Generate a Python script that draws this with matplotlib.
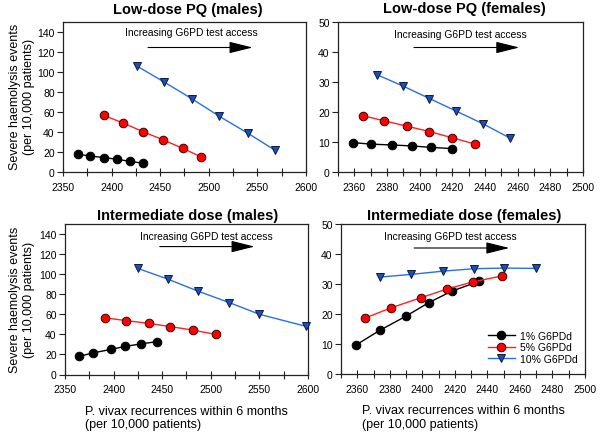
import matplotlib
matplotlib.use("Agg")
import matplotlib.pyplot as plt
from matplotlib.ticker import MultipleLocator

plt.rcParams['font.family'] = ['Liberation Sans', 'DejaVu Sans']

# ---------------- data ----------------
series_labels = ["1% G6PDd", "5% G6PDd", "10% G6PDd"]

# Low-dose PQ (males)
ld_m_x1 = [2365, 2378, 2392, 2406, 2419, 2432]
ld_m_y1 = [17.7, 16.0, 14.4, 12.7, 10.6, 8.8]
ld_m_x5 = [2392, 2412, 2432, 2453, 2473, 2492]
ld_m_y5 = [56.6, 48.9, 40.5, 32.1, 23.8, 15.1]
ld_m_x10 = [2426, 2454, 2483, 2511, 2540, 2568]
ld_m_y10 = [106.0, 90.0, 73.0, 55.6, 38.9, 21.8]

# Low-dose PQ (females)
ld_f_x1 = [2359, 2370, 2383, 2395, 2407, 2420]
ld_f_y1 = [9.8, 9.3, 9.0, 8.7, 8.2, 7.8]
ld_f_x5 = [2365, 2378, 2392, 2406, 2420, 2434]
ld_f_y5 = [18.8, 17.1, 15.3, 13.5, 11.4, 9.3]
ld_f_x10 = [2374, 2390, 2406, 2422, 2439, 2455]
ld_f_y10 = [32.4, 28.6, 24.5, 20.4, 16.0, 11.4]

# Intermediate dose (males)
im_m_x1 = [2364, 2379, 2397, 2412, 2428, 2445]
im_m_y1 = [18.0, 21.5, 25.0, 28.0, 30.5, 32.8]
im_m_x5 = [2391, 2413, 2436, 2458, 2482, 2505]
im_m_y5 = [56.5, 53.7, 51.0, 47.8, 44.2, 40.0]
im_m_x10 = [2425, 2456, 2487, 2519, 2550, 2598]
im_m_y10 = [105.7, 95.0, 83.0, 71.7, 60.0, 48.0]

# Intermediate dose (females)
im_f_x1 = [2359, 2374, 2390, 2404, 2418, 2435]
im_f_y1 = [9.6, 14.6, 19.3, 23.8, 27.6, 30.9]
im_f_x5 = [2365, 2381, 2399, 2415, 2431, 2449]
im_f_y5 = [18.7, 22.1, 25.4, 28.3, 30.7, 32.7]
im_f_x10 = [2374, 2393, 2413, 2432, 2450, 2470]
im_f_y10 = [32.3, 33.2, 34.3, 35.1, 35.3, 35.2]

panel_titles = ["Low-dose PQ (males)", "Low-dose PQ (females)",
                "Intermediate dose (males)", "Intermediate dose (females)"]
ylabel_text = "Severe haemolysis events\n(per 10,000 patients)"
xlabel_text = "P. vivax recurrences within 6 months\n(per 10,000 patients)"
annot_text = "Increasing G6PD test access"

# ---------------- styling ----------------
W, H = 602, 435
fig = plt.figure(figsize=(W / 100, H / 100), dpi=100)


def rect(l, t, r, b):
    return [l / W, 1 - b / H, (r - l) / W, (b - t) / H]


styles = [
    dict(color='black', marker='o', mfc='black', mec='black', ms=6.2),
    dict(color='#ff2020', marker='o', mfc='#ff0000', mec='#3a0000', ms=6.2),
    dict(color='#2a6fe0', marker='v', mfc='#1c4fb8', mec='#0a1a40', ms=6.0),
]

panels = [
    (rect(63, 23, 306, 173), (ld_m_x1, ld_m_y1, ld_m_x5, ld_m_y5, ld_m_x10, ld_m_y10), 'm',
     (0.53, 0.93), (0.35, 0.78, 0.83)),
    (rect(338, 23, 583, 173), (ld_f_x1, ld_f_y1, ld_f_x5, ld_f_y5, ld_f_x10, ld_f_y10), 'f',
     (0.50, 0.92), (0.31, 0.74, 0.83)),
    (rect(65, 225, 308, 375.5), (im_m_x1, im_m_y1, im_m_x5, im_m_y5, im_m_x10, im_m_y10), 'm',
     (0.58, 0.92), (0.39, 0.78, 0.85)),
    (rect(341, 225, 585, 375), (im_f_x1, im_f_y1, im_f_x5, im_f_y5, im_f_x10, im_f_y10), 'f',
     (0.45, 0.92), (0.30, 0.69, 0.84)),
]

axes = []
for i, (r, d, sex, tpos, apos) in enumerate(panels):
    ax = fig.add_axes(r)
    axes.append(ax)
    for k in range(3):
        st = styles[k]
        ax.plot(d[2 * k], d[2 * k + 1], color=st['color'], lw=1.0,
                marker=st['marker'], ms=st['ms'],
                mfc=st['mfc'], mec=st['mec'], mew=0.7, label=series_labels[k],
                clip_on=False, zorder=3)
    if sex == 'm':
        ax.set_xlim(2350, 2600)
        ax.set_ylim(0, 150)
        ax.xaxis.set_major_locator(MultipleLocator(50))
        ax.xaxis.set_minor_locator(MultipleLocator(25))
        ax.set_yticks(range(0, 141, 20))
    else:
        ax.set_xlim(2350, 2500)
        ax.set_ylim(0, 50)
        ax.set_xticks(range(2360, 2501, 20))
        ax.set_xticks(range(2350, 2501, 10), minor=True)
        ax.set_yticks(range(0, 51, 10))
    ax.tick_params(axis='x', which='both', direction='inout', length=6, width=0.8,
                   labelsize=7.5, pad=4, color='#222222')
    ax.tick_params(axis='y', which='both', direction='out', length=4, width=0.8,
                   labelsize=7.5, pad=2, color='#222222')
    for sp in ax.spines.values():
        sp.set_linewidth(0.9)
        sp.set_color('#222222')
    ax.text(tpos[0], tpos[1], annot_text, transform=ax.transAxes,
            ha='center', va='center', fontsize=7.4)
    ax.annotate('', xy=(apos[1], apos[2]), xytext=(apos[0], apos[2]),
                xycoords='axes fraction', textcoords='axes fraction',
                arrowprops=dict(arrowstyle='-|>,head_length=1.45,head_width=0.36',
                                color='black', lw=0.8, mutation_scale=10,
                                shrinkA=0, shrinkB=0))

# titles
fig.text(188 / W, 1 - 10 / H, panel_titles[0], ha='center', va='center',
         fontsize=10.5, fontweight='bold')
fig.text(464 / W, 1 - 9.5 / H, panel_titles[1], ha='center', va='center',
         fontsize=10.5, fontweight='bold')
fig.text(188 / W, 1 - 216 / H, panel_titles[2], ha='center', va='center',
         fontsize=10.5, fontweight='bold')
fig.text(464 / W, 1 - 216 / H, panel_titles[3], ha='center', va='center',
         fontsize=10.5, fontweight='bold')

# y labels
fig.text(22 / W, 1 - 97 / H, ylabel_text, rotation=90, ha='center', va='center',
         fontsize=9, linespacing=1.15)
fig.text(22 / W, 1 - 300 / H, ylabel_text, rotation=90, ha='center', va='center',
         fontsize=9, linespacing=1.15)

# x labels
fig.text(85 / W, 1 - 418.5 / H, xlabel_text, ha='left', va='center',
         fontsize=9, linespacing=1.15)
fig.text(362 / W, 1 - 418 / H, xlabel_text, ha='left', va='center',
         fontsize=9, linespacing=1.15)

# legend
leg = axes[3].legend(loc='lower right', fontsize=7.5, frameon=False,
                     handlelength=2.6, handletextpad=0.5, labelspacing=0.15,
                     borderaxespad=0.3, bbox_to_anchor=(1.0, 0.02))

fig.savefig('out.png', dpi=100)
